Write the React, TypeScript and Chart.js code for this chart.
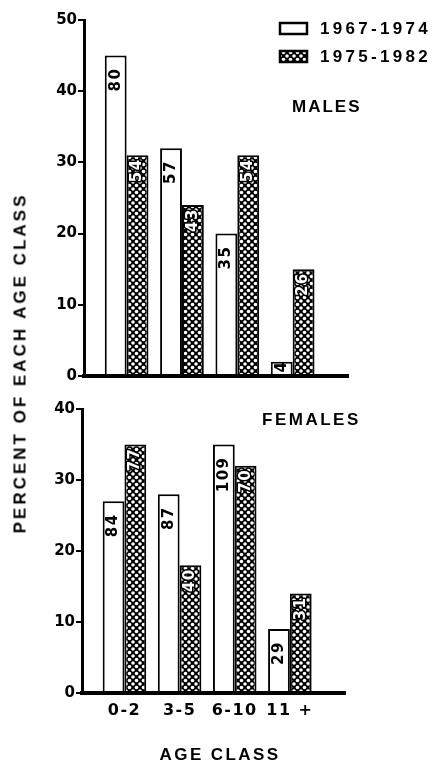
import React, { useEffect, useRef } from "react";
import { Chart, registerables } from "chart.js";

Chart.register(...registerables);

// ---- data ----
const ageClasses = ["0-2", "3-5", "6-10", "11 +"];
const seriesNames = ["1967-1974", "1975-1982"];
const malesEarly = [45, 32, 20, 2];
const malesLate = [31, 24, 31, 15];
const malesEarlyN = [80, 57, 35, 4];
const malesLateN = [54, 43, 54, 26];
const femalesEarly = [27, 28, 35, 9];
const femalesLate = [35, 18, 32, 14];
const femalesEarlyN = [84, 87, 109, 29];
const femalesLateN = [77, 40, 70, 31];
const malesMax = 50;
const femalesMax = 40;
const yStep = 10;

function makePattern(ctx: CanvasRenderingContext2D) {
  const c = document.createElement("canvas");
  c.width = 7;
  c.height = 7;
  const g = c.getContext("2d")!;
  g.fillStyle = "#000";
  g.fillRect(0, 0, 7, 7);
  g.fillStyle = "#fff";
  const dot = (x: number, y: number) => {
    g.beginPath();
    g.arc(x, y, 1.8, 0, Math.PI * 2);
    g.fill();
  };
  dot(3.5, 3.5);
  dot(0, 0);
  dot(7, 0);
  dot(0, 7);
  dot(7, 7);
  return ctx.createPattern(c, "repeat")!;
}

type PanelOpts = {
  early: number[];
  late: number[];
  earlyN: number[];
  lateN: number[];
  yMax: number;
  padding: { left: number; right: number; top: number; bottom: number };
  yWidth: number;
  xHeight: number;
  showXLabels: boolean;
  panelLabel: string;
  panelLabelX: number;
  panelLabelY: number;
  panelLabelSpacing: number;
  showLegend: boolean;
};

// y tick labels are drawn tight; x tick labels (drawn after the datasets) are spaced out
const spacingPlugin = {
  id: "spacing",
  beforeDraw(chart: any) {
    chart.ctx.letterSpacing = "0px";
  },
  afterDatasetsDraw(chart: any) {
    chart.ctx.letterSpacing = "1.5px";
  },
};

function buildChart(canvas: HTMLCanvasElement, o: PanelOpts) {
  const ctx0 = canvas.getContext("2d")!;
  const pattern = makePattern(ctx0);
  const counts = [o.earlyN, o.lateN];

  const barLabelPlugin = {
    id: "barLabels",
    afterDatasetsDraw(chart: any) {
      const ctx: any = chart.ctx;
      counts.forEach((arr, di) => {
        const meta = chart.getDatasetMeta(di);
        meta.data.forEach((el: any, i: number) => {
          const { x, y, base } = el.getProps(["x", "y", "base"], true);
          const text = String(arr[i]);
          ctx.save();
          ctx.font = 'bold 15px "DejaVu Sans"';
          ctx.letterSpacing = "1.5px";
          const w = ctx.measureText(text).width;
          const gap = di === 0 ? 12 : 3;
          let top = y + gap;
          if (top + w > base - 2) {
            const glyph = w - 1.5;
            top = (y + base - 2) / 2 - glyph / 2 - 1.5;
          }
          ctx.translate(x, top);
          ctx.rotate(-Math.PI / 2);
          ctx.textAlign = "right";
          ctx.textBaseline = "middle";
          if (di === 1) {
            ctx.lineWidth = 3;
            ctx.lineJoin = "round";
            ctx.strokeStyle = "#000";
            ctx.strokeText(text, 0, 0);
            ctx.fillStyle = "#fff";
            ctx.fillText(text, 0, 0);
          } else {
            ctx.fillStyle = "#000";
            ctx.fillText(text, 0, 0);
          }
          ctx.restore();
        });
      });
    },
  };

  const decorPlugin = {
    id: "decor",
    afterDraw(chart: any) {
      const ctx: any = chart.ctx;
      ctx.save();
      ctx.fillStyle = "#000";
      ctx.textBaseline = "middle";
      ctx.textAlign = "left";
      ctx.font = 'bold 17px "Liberation Sans"';
      ctx.letterSpacing = o.panelLabelSpacing + "px";
      ctx.fillText(o.panelLabel, o.panelLabelX, o.panelLabelY);
      if (o.showLegend) {
        const boxes = [
          { y: 22, fill: "#fff" as any },
          { y: 50, fill: pattern as any },
        ];
        boxes.forEach((b, k) => {
          ctx.fillStyle = b.fill;
          ctx.fillRect(279, b.y, 29, 13);
          ctx.lineWidth = 2.5;
          ctx.strokeStyle = "#000";
          ctx.strokeRect(280, b.y + 1, 27, 11);
          ctx.fillStyle = "#000";
          ctx.font = 'bold 17px "Liberation Sans"';
          ctx.letterSpacing = "3.3px";
          ctx.fillText(seriesNames[k], 320, b.y + 7);
        });
      }
      ctx.restore();
    },
  };

  return new Chart(canvas, {
    type: "bar",
    data: {
      datasets: [
        {
          label: seriesNames[0],
          data: o.early.map((v, i) => ({ x: i, y: v })),
          backgroundColor: "#fff",
          borderColor: "#000",
          borderWidth: 2,
          borderSkipped: "start",
        },
        {
          label: seriesNames[1],
          data: o.late.map((v, i) => ({ x: i, y: v })),
          backgroundColor: pattern,
          borderColor: "#000",
          borderWidth: 2,
          borderSkipped: "start",
        },
      ],
    } as any,
    options: {
      animation: false,
      responsive: false,
      maintainAspectRatio: false,
      layout: { padding: o.padding },
      barPercentage: 1,
      categoryPercentage: 0.79,
      plugins: {
        legend: { display: false },
        tooltip: { enabled: false },
        title: { display: false },
      },
      scales: {
        x: {
          type: "linear",
          min: -0.77,
          max: 4.0,
          offset: false,
          afterBuildTicks: (s: any) => {
            s.ticks = [0, 1, 2, 3].map((v) => ({ value: v }));
          },
          afterFit: (s: any) => {
            s.height = o.xHeight;
          },
          grid: { display: false, drawTicks: false },
          border: { display: true, color: "#000", width: 4, z: 1 },
          ticks: {
            display: o.showXLabels,
            z: 1,
            autoSkip: false,
            maxRotation: 0,
            padding: 8,
            color: "#000",
            font: { family: "DejaVu Sans", weight: "bold", size: 16 },
            callback: (_v: any, i: number) => ageClasses[i],
          },
        },
        y: {
          min: 0,
          max: o.yMax,
          afterFit: (s: any) => {
            s.width = o.yWidth;
          },
          grid: {
            display: true,
            drawOnChartArea: false,
            drawTicks: true,
            tickLength: 6,
            color: "#000",
            lineWidth: 2,
          },
          border: { display: true, color: "#000", width: 3 },
          ticks: {
            stepSize: yStep,
            padding: 1,
            color: "#000",
            font: { family: "DejaVu Sans", weight: "bold", size: 15 },
          },
        },
      },
    } as any,
    plugins: [spacingPlugin, barLabelPlugin, decorPlugin],
  });
}

export default function App() {
  const topRef = useRef<HTMLCanvasElement>(null);
  const botRef = useRef<HTMLCanvasElement>(null);

  useEffect(() => {
    const c1 = buildChart(topRef.current!, {
      early: malesEarly,
      late: malesLate,
      earlyN: malesEarlyN,
      lateN: malesLateN,
      yMax: malesMax,
      padding: { left: 0, right: 88, top: 20, bottom: 14 },
      yWidth: 84,
      xHeight: 0,
      showXLabels: false,
      panelLabel: "MALES",
      panelLabelX: 292,
      panelLabelY: 107,
      panelLabelSpacing: 2,
      showLegend: true,
    });
    const c2 = buildChart(botRef.current!, {
      early: femalesEarly,
      late: femalesLate,
      earlyN: femalesEarlyN,
      lateN: femalesLateN,
      yMax: femalesMax,
      padding: { left: 0, right: 91, top: 19, bottom: 0 },
      yWidth: 82,
      xHeight: 68,
      showXLabels: true,
      panelLabel: "FEMALES",
      panelLabelX: 262,
      panelLabelY: 30,
      panelLabelSpacing: 2.5,
      showLegend: false,
    });
    return () => {
      c1.destroy();
      c2.destroy();
    };
  }, []);

  return (
    <div
      style={{
        position: "absolute",
        left: 0,
        top: 0,
        width: 436,
        height: 761,
        background: "#fff",
        overflow: "hidden",
      }}
    >
      <canvas
        ref={topRef}
        width={436}
        height={390}
        style={{ position: "absolute", left: 0, top: 0, width: 436, height: 390 }}
      />
      <canvas
        ref={botRef}
        width={436}
        height={371}
        style={{ position: "absolute", left: 0, top: 390, width: 436, height: 371 }}
      />
      <div
        style={{
          position: "absolute",
          left: 20,
          top: 363,
          transform: "translate(-50%, -50%) rotate(-90deg)",
          font: 'bold 17px "Liberation Sans"',
          letterSpacing: "3px",
          whiteSpace: "nowrap",
          lineHeight: 1,
          color: "#000",
        }}
      >
        PERCENT OF EACH AGE CLASS
      </div>
      <div
        style={{
          position: "absolute",
          left: 220,
          top: 754,
          transform: "translate(-50%, -50%)",
          font: 'bold 17px "Liberation Sans"',
          letterSpacing: "2.4px",
          whiteSpace: "nowrap",
          lineHeight: 1,
          color: "#000",
        }}
      >
        AGE CLASS
      </div>
    </div>
  );
}
